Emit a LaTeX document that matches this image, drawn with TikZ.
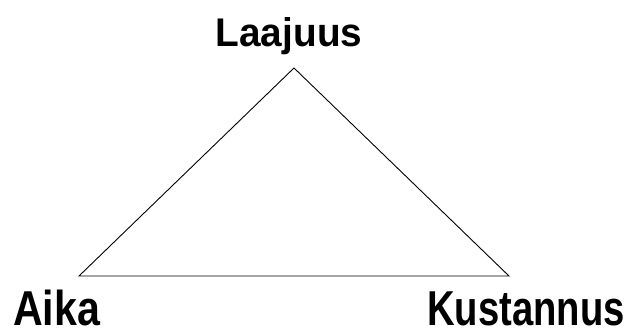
\documentclass[tikz,border=0pt]{standalone}
\usepackage{fontspec}
\setmainfont{Liberation Sans}
\begin{document}
\begin{tikzpicture}[x=1pt,y=1pt,
  lbl/.style={font=\bfseries\fontsize{40}{40}\selectfont, inner sep=0pt, anchor=base},
  blbl/.style={font=\bfseries\fontsize{49}{49}\selectfont, inner sep=0pt, anchor=base}]
\useasboundingbox (0,0) rectangle (633,329);
\coordinate (top) at (294,261);
\coordinate (left) at (79,53);
\coordinate (right) at (509,53);
\draw[line width=0.9pt, line join=miter] (top) -- (right) -- (left) -- cycle;
\node[lbl, xscale=0.97] (l) at (289,282) {Laajuus};
\node[blbl, anchor=base west, xscale=0.84] (a) at (13,3) {Aika};
\node[blbl, anchor=base east, xscale=0.78] (k) at (625,3) {Kustannus};
\end{tikzpicture}
\end{document}
